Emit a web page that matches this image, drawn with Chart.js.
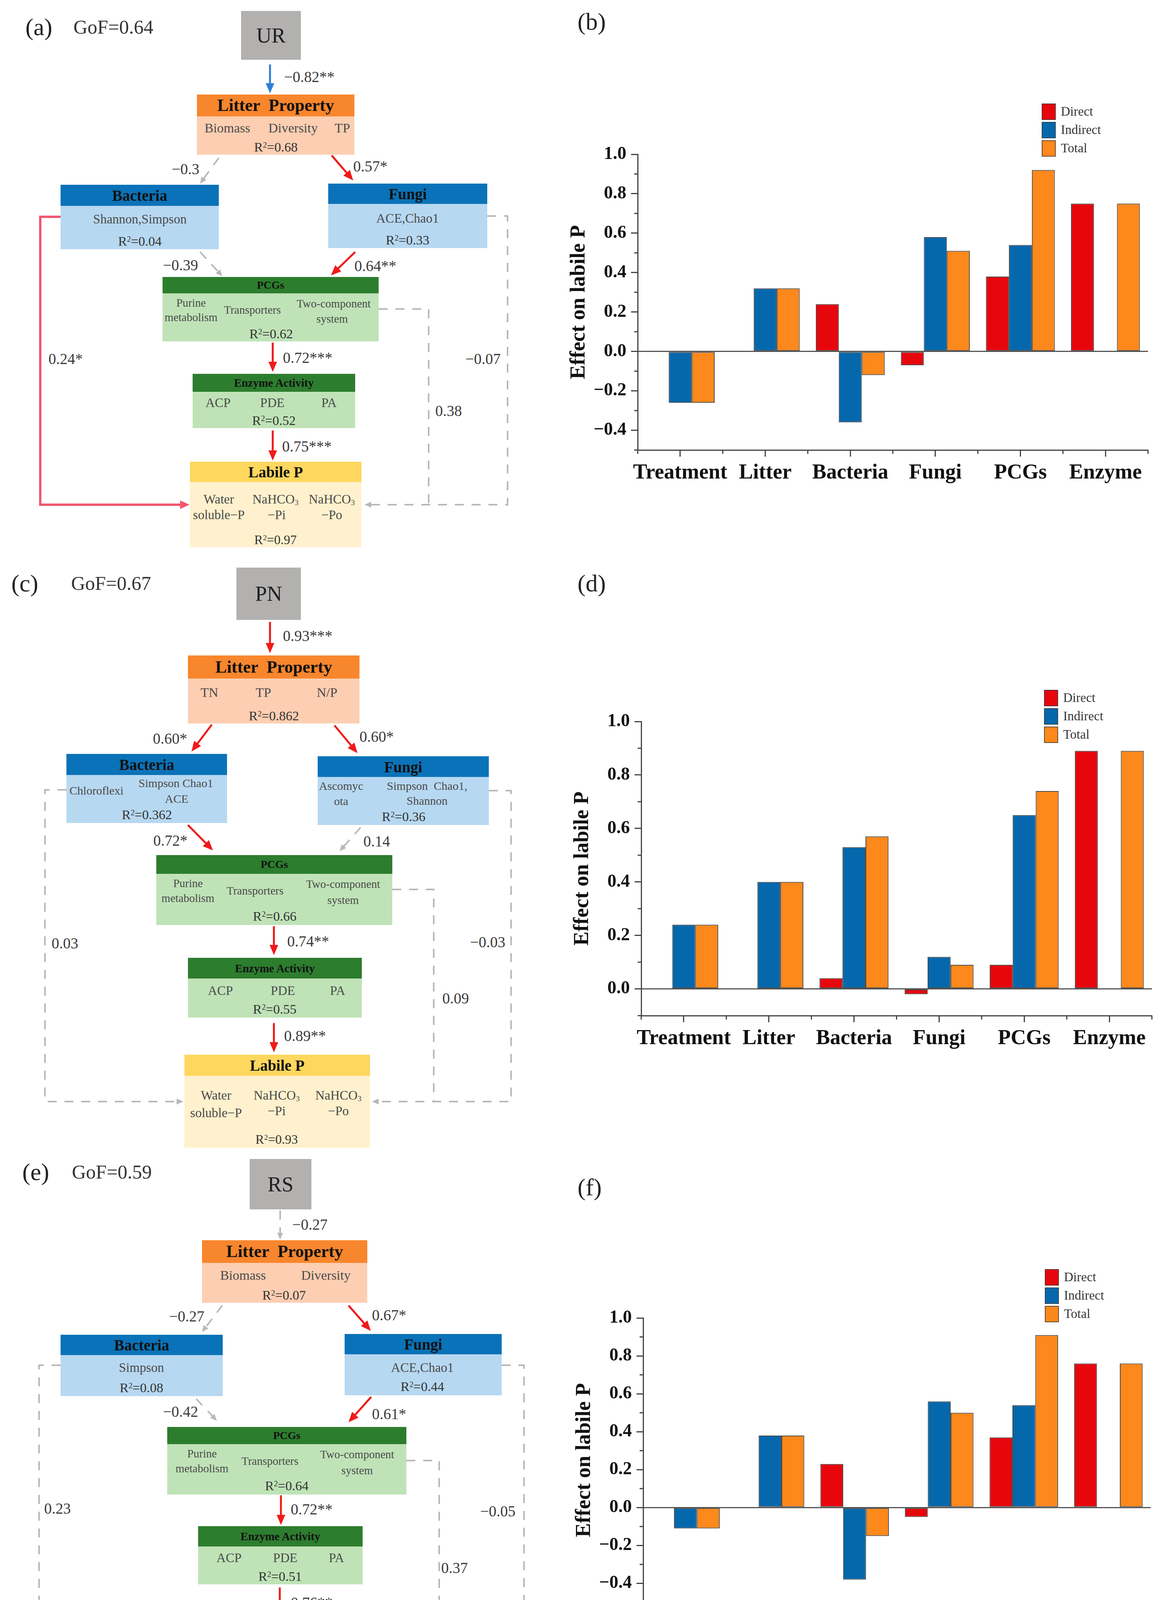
<!DOCTYPE html>
<html>
<head>
<meta charset="utf-8">
<script src="https://cdn.jsdelivr.net/npm/chart.js@4.4.0/dist/chart.umd.min.js"></script>
<style>
  html, body { margin: 0; padding: 0; background: #fff; }
  #page { position: relative; width: 2979px; height: 5953px; background: #fff; overflow: hidden;
          font-family: 'Liberation Serif', 'Times New Roman', serif; }
  .t { position: absolute; white-space: pre; line-height: 1; }
  .t sup { font-size: 0.6em; vertical-align: 0.5em; line-height: 0; }
  .t sub { font-size: 0.6em; vertical-align: -0.25em; line-height: 0; }
  .rect { position: absolute; }
  canvas { position: absolute; }
  #lines { position: absolute; left: 0; top: 0; }
</style>
</head>
<body>
<div id="page"><svg id="lines" width="2979" height="5953" xmlns="http://www.w3.org/2000/svg"></svg></div>
<script>
// ---- bar chart data (effects on labile P) ----
const categories = ["Treatment", "Litter", "Bacteria", "Fungi", "PCGs", "Enzyme"];
const seriesNames = ["Direct", "Indirect", "Total"];
const seriesColors = ["#e8060d", "#0568ad", "#fd881b"];

const directUR   = [null, null, 0.24, -0.07, 0.38, 0.75];
const indirectUR = [-0.26, 0.32, -0.36, 0.58, 0.54, null];
const totalUR    = [-0.26, 0.32, -0.12, 0.51, 0.92, 0.75];

const directPN   = [null, null, 0.04, -0.02, 0.09, 0.89];
const indirectPN = [0.24, 0.40, 0.53, 0.12, 0.65, null];
const totalPN    = [0.24, 0.40, 0.57, 0.09, 0.74, 0.89];

const directRS   = [null, null, 0.23, -0.05, 0.37, 0.76];
const indirectRS = [-0.11, 0.38, -0.38, 0.56, 0.54, null];
const totalRS    = [-0.11, 0.38, -0.15, 0.50, 0.91, 0.76];

const directRD   = [null, null, -0.13, 0.06, 0.12, 0.96];
const indirectRD = [0.50, 0.59, 0.54, 0.36, 0.71, null];
const totalRD    = [0.50, 0.59, 0.41, 0.41, 0.83, 0.96];

const yMins = [-0.5, -0.1, -0.5, -0.2];
const yMax = 1.0;

const page = document.getElementById("page");
const svg = document.getElementById("lines");
const NS = "http://www.w3.org/2000/svg";

function txt(x, y, html, size, o) {
  o = o || {};
  const d = document.createElement("div");
  d.className = "t";
  d.innerHTML = html;
  d.style.left = x + "px";
  d.style.top = y + "px";
  d.style.fontSize = size + "px";
  d.style.color = o.color || "#222";
  if (o.bold) d.style.fontWeight = "bold";
  d.style.transform = o.anchor === "l" ? "translate(0,-50%)" : "translate(-50%,-50%)";
  page.appendChild(d);
}

function rect(x1, y1, x2, y2, color) {
  const d = document.createElement("div");
  d.className = "rect";
  d.style.left = x1 + "px";
  d.style.top = y1 + "px";
  d.style.width = (x2 - x1) + "px";
  d.style.height = (y2 - y1) + "px";
  d.style.background = color;
  page.appendChild(d);
}

const schemes = {
  litter: ["#f8862d", "#fdceb2"],
  micro:  ["#0a72b8", "#b7d8f1"],
  green:  ["#2d7d2e", "#bfe3b7"],
  labile: ["#fdd75e", "#fff1cd"]
};

const lineStyles = {
  red:  { c: "#f01a1a", w: 5, al: 26, aw: 22 },
  blue: { c: "#2f80d6", w: 5, al: 26, aw: 22 },
  pink: { c: "#f4566f", w: 6, al: 24, aw: 22 },
  dash: { c: "#b8b8b8", w: 4, al: 17, aw: 15, dash: "23 20" }
};

function path(kind, pts, arrow) {
  const st = lineStyles[kind];
  const p = pts.map(q => q.slice());
  if (arrow) {
    const a = p[p.length - 2], b = p[p.length - 1];
    const dx = b[0] - a[0], dy = b[1] - a[1];
    const len = Math.hypot(dx, dy);
    const ux = dx / len, uy = dy / len;
    p[p.length - 1] = [b[0] - ux * st.al * 0.7, b[1] - uy * st.al * 0.7];
    const bx = b[0] - ux * st.al, by = b[1] - uy * st.al;
    const tri = document.createElementNS(NS, "polygon");
    tri.setAttribute("points", [
      b[0] + "," + b[1],
      (bx - uy * st.aw / 2) + "," + (by + ux * st.aw / 2),
      (bx + uy * st.aw / 2) + "," + (by - ux * st.aw / 2)
    ].join(" "));
    tri.setAttribute("fill", st.c);
    svg.appendChild(tri);
  }
  const pl = document.createElementNS(NS, "polyline");
  pl.setAttribute("points", p.map(q => q[0] + "," + q[1]).join(" "));
  pl.setAttribute("fill", "none");
  pl.setAttribute("stroke", st.c);
  pl.setAttribute("stroke-width", st.w);
  pl.setAttribute("stroke-linejoin", "miter");
  if (st.dash) pl.setAttribute("stroke-dasharray", st.dash);
  svg.insertBefore(pl, svg.firstChild);
}

const R = v => "R<sup>2</sup>=" + v;
const NA = "NaHCO<sub>3</sub>";

// ---- path diagrams (layout) ----
const diagrams = [
  {
    gray: [617, 28, 770, 153, "UR"],
    boxes: [
      ["litter", 504, 242, 298, 907, 396, "Litter  Property", 44],
      ["micro", 155, 473, 527, 560, 638, "Bacteria", 39],
      ["micro", 840, 470, 522, 1247, 635, "Fungi", 39],
      ["green", 416, 709, 751, 969, 874, "PCGs", 28],
      ["green", 493, 957, 1003, 909, 1096, "Enzyme Activity", 29],
      ["labile", 486, 1182, 1234, 925, 1401, "Labile P", 39]
    ],
    texts: [
      ["Biomass", 582, 328, 34], ["Diversity", 750, 328, 34], ["TP", 876, 328, 34], [R("0.68"), 706, 377, 34],
      ["Shannon,Simpson", 358, 561, 33], [R("0.04"), 358, 618, 34],
      ["ACE,Chao1", 1043, 559, 33], [R("0.33"), 1043, 615, 34],
      ["Purine", 489, 775, 29], ["metabolism", 489, 812, 29], ["Transporters", 646, 793, 29],
      ["Two-component", 854, 777, 29], ["system", 850, 816, 29], [R("0.62"), 694, 855, 34],
      ["ACP", 558, 1031, 33], ["PDE", 697, 1031, 33], ["PA", 842, 1031, 33], [R("0.52"), 701, 1077, 34],
      ["Water", 560, 1278, 33], ["soluble−P", 560, 1318, 33], [NA, 705, 1278, 33], ["−Pi", 708, 1318, 33],
      [NA, 849, 1278, 33], ["−Po", 849, 1318, 33], [R("0.97"), 705, 1382, 33]
    ],
    lines: [
      ["blue", [[691, 165], [691, 239]], 1],
      ["dash", [[560, 404], [512, 470]], 1],
      ["red", [[849, 398], [904, 462]], 1],
      ["dash", [[512, 645], [569, 707]], 1],
      ["red", [[909, 645], [847, 705]], 1],
      ["red", [[698, 877], [698, 952]], 1],
      ["red", [[698, 1102], [698, 1179]], 1],
      ["pink", [[155, 555], [103, 555], [103, 1292], [485, 1292]], 1],
      ["dash", [[969, 791], [1097, 791], [1097, 1292]], 0],
      ["dash", [[1247, 553], [1299, 553], [1299, 1292], [933, 1292]], 1]
    ],
    labels: [
      ["−0.82**", 727, 196, "l"], ["−0.3", 475, 432, "c"], ["0.57*", 904, 425, "l"],
      ["−0.39", 462, 678, "c"], ["0.64**", 907, 680, "l"], ["0.72***", 724, 915, "l"],
      ["0.75***", 722, 1142, "l"], ["0.24*", 124, 918, "l"], ["0.38", 1114, 1051, "l"],
      ["−0.07", 1191, 918, "l"]
    ]
  },
  {
    gray: [605, 1453, 770, 1587, "PN"],
    boxes: [
      ["litter", 481, 1678, 1737, 920, 1852, "Litter  Property", 44],
      ["micro", 170, 1930, 1984, 581, 2107, "Bacteria", 39],
      ["micro", 813, 1936, 1989, 1251, 2112, "Fungi", 39],
      ["green", 400, 2189, 2237, 1004, 2368, "PCGs", 28],
      ["green", 481, 2452, 2505, 926, 2605, "Enzyme Activity", 29],
      ["labile", 472, 2700, 2754, 947, 2938, "Labile P", 39]
    ],
    texts: [
      ["TN", 536, 1773, 34], ["TP", 674, 1773, 34], ["N/P", 837, 1773, 34], [R("0.862"), 701, 1833, 34],
      ["Chloroflexi", 247, 2024, 30], ["Simpson Chao1", 450, 2005, 30], ["ACE", 452, 2045, 30], [R("0.362"), 376, 2086, 34],
      ["Ascomyc", 873, 2012, 30], ["ota", 873, 2051, 30], ["Simpson  Chao1,", 1093, 2012, 30], ["Shannon", 1093, 2050, 30],
      [R("0.36"), 1033, 2091, 34],
      ["Purine", 481, 2261, 29], ["metabolism", 481, 2299, 29], ["Transporters", 653, 2280, 29],
      ["Two-component", 878, 2263, 29], ["system", 878, 2304, 29], [R("0.66"), 703, 2346, 34],
      ["ACP", 564, 2536, 33], ["PDE", 724, 2536, 33], ["PA", 864, 2536, 33], [R("0.55"), 703, 2584, 34],
      ["Water", 553, 2804, 33], ["soluble−P", 553, 2849, 33], [NA, 708, 2804, 33], ["−Pi", 708, 2844, 33],
      [NA, 866, 2804, 33], ["−Po", 866, 2844, 33], [R("0.93"), 708, 2917, 33]
    ],
    lines: [
      ["red", [[691, 1592], [691, 1672]], 1],
      ["red", [[542, 1855], [490, 1924]], 1],
      ["red", [[856, 1857], [915, 1928]], 1],
      ["red", [[481, 2112], [545, 2177]], 1],
      ["dash", [[923, 2118], [869, 2179]], 1],
      ["red", [[701, 2371], [701, 2445]], 1],
      ["red", [[701, 2619], [701, 2694]], 1],
      ["dash", [[170, 2022], [115, 2022], [115, 2820], [469, 2820]], 1],
      ["dash", [[1004, 2277], [1110, 2277], [1110, 2820]], 0],
      ["dash", [[1251, 2024], [1308, 2024], [1308, 2820], [952, 2820]], 1]
    ],
    labels: [
      ["0.93***", 724, 1627, "l"], ["0.60*", 435, 1890, "c"], ["0.60*", 920, 1885, "l"],
      ["0.72*", 436, 2151, "c"], ["0.14", 930, 2153, "l"], ["0.74**", 735, 2409, "l"],
      ["0.89**", 727, 2651, "l"], ["0.03", 132, 2414, "l"], ["0.09", 1132, 2555, "l"],
      ["−0.03", 1203, 2411, "l"]
    ]
  },
  {
    gray: [639, 2967, 797, 3096, "RS"],
    boxes: [
      ["litter", 517, 3175, 3233, 940, 3335, "Litter  Property", 44],
      ["micro", 155, 3417, 3469, 570, 3574, "Bacteria", 39],
      ["micro", 882, 3415, 3467, 1284, 3572, "Fungi", 39],
      ["green", 428, 3653, 3697, 1040, 3826, "PCGs", 28],
      ["green", 507, 3907, 3959, 928, 4056, "Enzyme Activity", 29],
      ["labile", 488, 4144, 4198, 942, 4373, "Labile P", 39]
    ],
    texts: [
      ["Biomass", 622, 3265, 34], ["Diversity", 834, 3265, 34], [R("0.07"), 727, 3316, 34],
      ["Simpson", 362, 3501, 33], [R("0.08"), 362, 3553, 34],
      ["ACE,Chao1", 1081, 3501, 33], [R("0.44"), 1081, 3550, 34],
      ["Purine", 517, 3721, 29], ["metabolism", 517, 3759, 29], ["Transporters", 691, 3740, 29],
      ["Two-component", 914, 3723, 29], ["system", 914, 3764, 29], [R("0.64"), 734, 3804, 34],
      ["ACP", 586, 3988, 33], ["PDE", 730, 3988, 33], ["PA", 861, 3988, 33], [R("0.51"), 717, 4036, 34],
      ["Water", 564, 4244, 33], ["soluble−P", 564, 4284, 33], [NA, 713, 4244, 33], ["−Pi", 713, 4284, 33],
      [NA, 866, 4244, 33], ["−Po", 866, 4284, 33], [R("0.96"), 716, 4352, 33]
    ],
    lines: [
      ["dash", [[717, 3099], [717, 3173]], 1],
      ["dash", [[569, 3342], [517, 3410]], 1],
      ["red", [[892, 3342], [949, 3407]], 1],
      ["dash", [[502, 3581], [555, 3637]], 1],
      ["red", [[950, 3576], [892, 3641]], 1],
      ["red", [[719, 3828], [719, 3904]], 1],
      ["red", [[716, 4064], [716, 4139]], 1],
      ["dash", [[155, 3495], [100, 3495], [100, 4258], [483, 4258]], 1],
      ["dash", [[1040, 3739], [1124, 3739], [1124, 4258]], 0],
      ["dash", [[1284, 3495], [1341, 3495], [1341, 4258], [948, 4258]], 1]
    ],
    labels: [
      ["−0.27", 748, 3134, "l"], ["−0.27", 478, 3369, "c"], ["0.67*", 952, 3366, "l"],
      ["−0.42", 462, 3613, "c"], ["0.61*", 952, 3619, "l"], ["0.72**", 744, 3863, "l"],
      ["0.76**", 744, 4102, "l"], ["0.23", 113, 3861, "l"], ["0.37", 1129, 4013, "l"],
      ["−0.05", 1229, 3868, "l"]
    ]
  },
  {
    gray: [652, 4451, 816, 4585, "RD"],
    boxes: [
      ["litter", 512, 4660, 4722, 952, 4821, "Litter  Property", 44],
      ["micro", 165, 4913, 4969, 595, 5080, "Bacteria", 39],
      ["micro", 892, 4917, 4974, 1311, 5081, "Fungi", 39],
      ["green", 429, 5160, 5205, 1071, 5338, "PCGs", 28],
      ["green", 550, 5427, 5480, 973, 5581, "Enzyme Activity", 29],
      ["labile", 529, 5678, 5734, 1000, 5915, "Labile P", 39]
    ],
    texts: [
      ["Biomass", 596, 4752, 34], ["Diversity", 780, 4752, 34], ["TP", 915, 4752, 34], [R("0.68"), 732, 4801, 34],
      ["Proteobacteria", 271, 5004, 29], ["ACE,Chao1", 483, 5004, 29], [R("0.67"), 381, 5057, 34],
      ["ACE,Chao1", 1100, 5006, 33], [R("0.36"), 1100, 5057, 34],
      ["Purine", 521, 5230, 29], ["metabolism", 521, 5272, 29], ["Transporters", 711, 5250, 29],
      ["Two-component", 942, 5232, 29], ["system", 942, 5275, 29], [R("0.81"), 751, 5318, 34],
      ["ACP", 629, 5509, 33], ["PDE", 782, 5509, 33], ["PA", 914, 5509, 33], [R("0.55"), 762, 5557, 34],
      ["Water", 609, 5780, 33], ["soluble−P", 609, 5826, 33], [NA, 765, 5780, 33], ["−Pi", 765, 5826, 33],
      [NA, 918, 5780, 33], ["−Po", 918, 5826, 33], [R("0.94"), 765, 5894, 33]
    ],
    lines: [
      ["red", [[735, 4588], [735, 4659]], 1],
      ["red", [[585, 4834], [534, 4900]], 1],
      ["red", [[892, 4834], [950, 4900]], 1],
      ["red", [[517, 5083], [571, 5148]], 1],
      ["red", [[954, 5083], [911, 5148]], 1],
      ["red", [[756, 5343], [756, 5422]], 1],
      ["red", [[762, 5584], [762, 5673]], 1],
      ["dash", [[165, 4994], [108, 4994], [108, 5798], [526, 5798]], 1],
      ["dash", [[1071, 5247], [1157, 5247], [1157, 5798]], 0],
      ["dash", [[1311, 4997], [1368, 4997], [1368, 5798], [1004, 5798]], 1]
    ],
    labels: [
      ["0.82***", 763, 4620, "l"], ["0.82**", 480, 4858, "c"], ["0.60*", 949, 4858, "l"],
      ["0.65**", 461, 5115, "c"], ["0.43*", 954, 5120, "l"], ["0.74**", 784, 5380, "l"],
      ["0.96***", 789, 5621, "l"], ["−0.13", 134, 5383, "l"], ["0.12", 1175, 5541, "l"],
      ["0.06", 1277, 5383, "l"]
    ]
  }
];

const leftLetters = [["(a)", 65, 69], ["(c)", 29, 1493], ["(e)", 57, 3000], ["(g)", 81, 4487]];
const gofs = [["GoF=0.64", 188, 69], ["GoF=0.67", 182, 1493], ["GoF=0.59", 184, 3000], ["GoF=0.71", 218, 4487]];
const rightLetters = [["(b)", 1478, 55], ["(d)", 1478, 1493], ["(f)", 1478, 3039], ["(h)", 1478, 4474]];

diagrams.forEach(dg => {
  const g = dg.gray;
  rect(g[0], g[1], g[2], g[3], "#b3b0b0");
  txt((g[0] + g[2]) / 2, (g[1] + g[3]) / 2, g[4], 54, { color: "#1e1e1e" });
  dg.boxes.forEach(b => {
    const sc = schemes[b[0]];
    rect(b[1], b[2], b[4], b[3], sc[0]);
    rect(b[1], b[3], b[4], b[5], sc[1]);
    txt((b[1] + b[4]) / 2, (b[2] + b[3]) / 2, b[6], b[7], { bold: true, color: "#111" });
  });
  dg.texts.forEach(t => {
    const isR = t[0].indexOf("R<sup>") === 0;
    txt(t[1], t[2], t[0], t[3], { color: isR ? "#333" : "#4a4a4a" });
  });
  dg.lines.forEach(l => path(l[0], l[1], l[2]));
  dg.labels.forEach(l => txt(l[1], l[2], l[0], 39, { color: "#3a3a3a", anchor: l[3] }));
});
leftLetters.concat(rightLetters).forEach(l => txt(l[1], l[2], l[0], 62, { color: "#222", anchor: "l" }));
gofs.forEach(l => txt(l[1], l[2], l[0], 50, { color: "#333", anchor: "l" }));

// ---- bar charts ----
Chart.defaults.font.family = "'Liberation Serif', 'Times New Roman', serif";

const minorTicks = {
  id: "minorTicks",
  afterDraw(chart) {
    const { ctx, scales: { x, y }, chartArea } = chart;
    ctx.save();
    ctx.strokeStyle = "#444";
    ctx.lineWidth = 3;
    y.ticks.forEach(t => {
      if (Math.round(t.value * 10) % 2 !== 0) {
        const py = y.getPixelForValue(t.value);
        ctx.beginPath(); ctx.moveTo(chartArea.left - 9, py); ctx.lineTo(chartArea.left, py); ctx.stroke();
      }
    });
    const n = categories.length, w = (x.right - x.left) / n;
    for (let i = 0; i <= n; i++) {
      const px = x.left + i * w;
      ctx.beginPath(); ctx.moveTo(px, chartArea.bottom); ctx.lineTo(px, chartArea.bottom + 10); ctx.stroke();
    }
    ctx.restore();
  }
};

const sideLegend = {
  id: "sideLegend",
  afterDraw(chart, args, opts) {
    const ctx = chart.ctx;
    ctx.save();
    chart.data.datasets.forEach((ds, i) => {
      const x0 = opts.x, y0 = opts.y + i * 47;
      ctx.fillStyle = ds.backgroundColor;
      ctx.fillRect(x0, y0, 36, 42);
      ctx.strokeStyle = "rgba(60,60,60,0.8)";
      ctx.lineWidth = 2;
      ctx.strokeRect(x0 + 1, y0 + 1, 34, 40);
      ctx.fillStyle = "#333";
      ctx.font = "33px 'Liberation Serif'";
      ctx.textBaseline = "middle";
      ctx.fillText(ds.label, x0 + 49, y0 + 22);
    });
    ctx.restore();
  }
};

const chartPanels = [
  { series: [directUR, indirectUR, totalUR], axisX: 1632, right: 2938, yTop: 395,  yBottom: 1152, legend: [2666, 265] },
  { series: [directPN, indirectPN, totalPN], axisX: 1641, right: 2948, yTop: 1847, yBottom: 2600, legend: [2672, 1766] },
  { series: [directRS, indirectRS, totalRS], axisX: 1646, right: 2945, yTop: 3374, yBottom: 4102, legend: [2674, 3249] },
  { series: [directRD, indirectRD, totalRD], axisX: 1649, right: 2943, yTop: 4863, yBottom: 5556, legend: [2674, 4735] }
];

function tickLabel(v) {
  const k = Math.round(v * 10);
  if (k % 2 !== 0) return "";
  if (k === 0) return "0.0";
  return (k < 0 ? "−" : "") + (Math.abs(k) / 10).toFixed(1);
}

chartPanels.forEach((p, idx) => {
  const left = 1400, width = 2979 - left;
  const top = p.yTop - 180, xAxisH = 110;
  const height = p.yBottom + xAxisH - top;
  const c = document.createElement("canvas");
  c.width = width; c.height = height;
  c.style.left = left + "px"; c.style.top = top + "px";
  c.style.width = width + "px"; c.style.height = height + "px";
  page.appendChild(c);
  const yAxisW = 182;
  new Chart(c, {
    type: "bar",
    data: {
      labels: categories,
      datasets: seriesNames.map((name, i) => ({
        label: name,
        data: p.series[i],
        backgroundColor: seriesColors[i],
        borderColor: "rgba(45,45,45,0.85)",
        borderWidth: 2,
        borderSkipped: false,
        categoryPercentage: 0.81,
        barPercentage: 1.0
      }))
    },
    options: {
      responsive: false,
      animation: false,
      devicePixelRatio: 1,
      layout: { padding: { left: p.axisX - yAxisW - left, right: 2979 - p.right, top: 180, bottom: 0 } },
      plugins: {
        legend: { display: false },
        tooltip: { enabled: false },
        sideLegend: { x: p.legend[0] - left, y: p.legend[1] - top }
      },
      scales: {
        x: {
          offset: true,
          grid: { offset: false, drawOnChartArea: false, drawTicks: true, tickLength: 17, tickColor: "#444", tickWidth: 3 },
          border: { display: true, color: "#444", width: 3 },
          ticks: { color: "#111", font: { size: 54, weight: "bold" }, padding: 10, maxRotation: 0, autoSkip: false },
          afterFit: s => { s.height = xAxisH; }
        },
        y: {
          min: yMins[idx],
          max: yMax,
          ticks: { stepSize: 0.1, autoSkip: false, callback: tickLabel, color: "#111", font: { size: 46, weight: "bold" }, padding: 12 },
          grid: {
            drawOnChartArea: true,
            drawTicks: true,
            tickLength: 17,
            lineWidth: 3,
            tickWidth: 3,
            color: ctx => (ctx.tick && Math.abs(ctx.tick.value) < 1e-6) ? "#555" : "rgba(0,0,0,0)",
            tickColor: ctx => (ctx.tick && Math.round(ctx.tick.value * 10) % 2 === 0) ? "#444" : "rgba(0,0,0,0)"
          },
          border: { display: true, color: "#444", width: 3 },
          title: { display: true, text: "Effect on labile P", color: "#111", font: { size: 54, weight: "bold" }, padding: { top: 0, bottom: 0 } },
          afterFit: s => { s.width = yAxisW; }
        }
      }
    },
    plugins: [minorTicks, sideLegend]
  });
});
</script>
</body>
</html>
